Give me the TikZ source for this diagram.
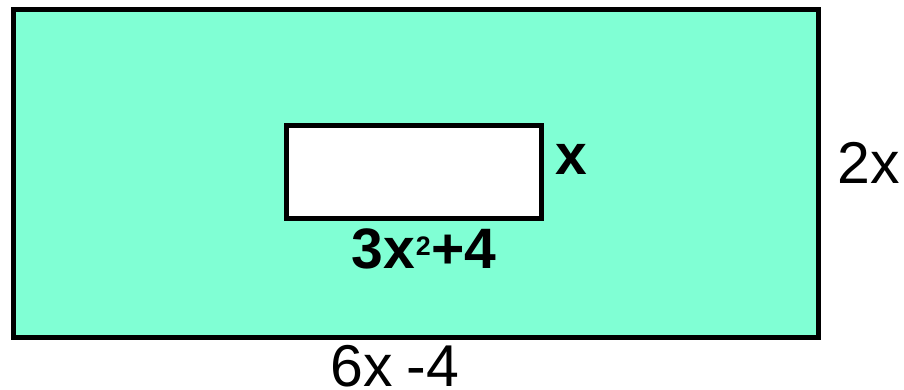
\documentclass[tikz,border=0pt]{standalone}
\usepackage{fontspec}
\usepackage{graphicx}
\setmainfont{Liberation Sans}
\usetikzlibrary{positioning}
\definecolor{areafill}{RGB}{128,255,212}

\tikzset{
  box/.style={draw=black, line width=5pt, rectangle, inner sep=0pt},
  dimlabel/.style={font=\fontsize{59}{70}\selectfont, inner sep=0pt, anchor=base},
  boldlabel/.style={font=\fontsize{57}{68}\selectfont\bfseries, inner sep=0pt, anchor=base}
}

\begin{document}
\begin{tikzpicture}[x=1pt, y=-1pt]
  \useasboundingbox (0,0) rectangle (904,390);

  % outer shaded rectangle and cut-out
  \node[box, fill=areafill, minimum width=805.5pt, minimum height=328pt]
    (outer) at (415.75,173.5) {};
  \node[box, fill=white, minimum width=255pt, minimum height=93pt]
    (inner) at (414,172) {};

  % side lengths
  \node[boldlabel] (innerh) at (571,175) {x};
  \node[boldlabel] (innerw) at (424,268)
    {3x\kern1pt\raisebox{13pt}{\scalebox{0.47}{2}}\kern1pt+4};
  \node[dimlabel] (outerh) at (869,184) {2x};
  \node[dimlabel] (outerw) at (395,386) {6x\kern-3pt\ -4};
\end{tikzpicture}
\end{document}
